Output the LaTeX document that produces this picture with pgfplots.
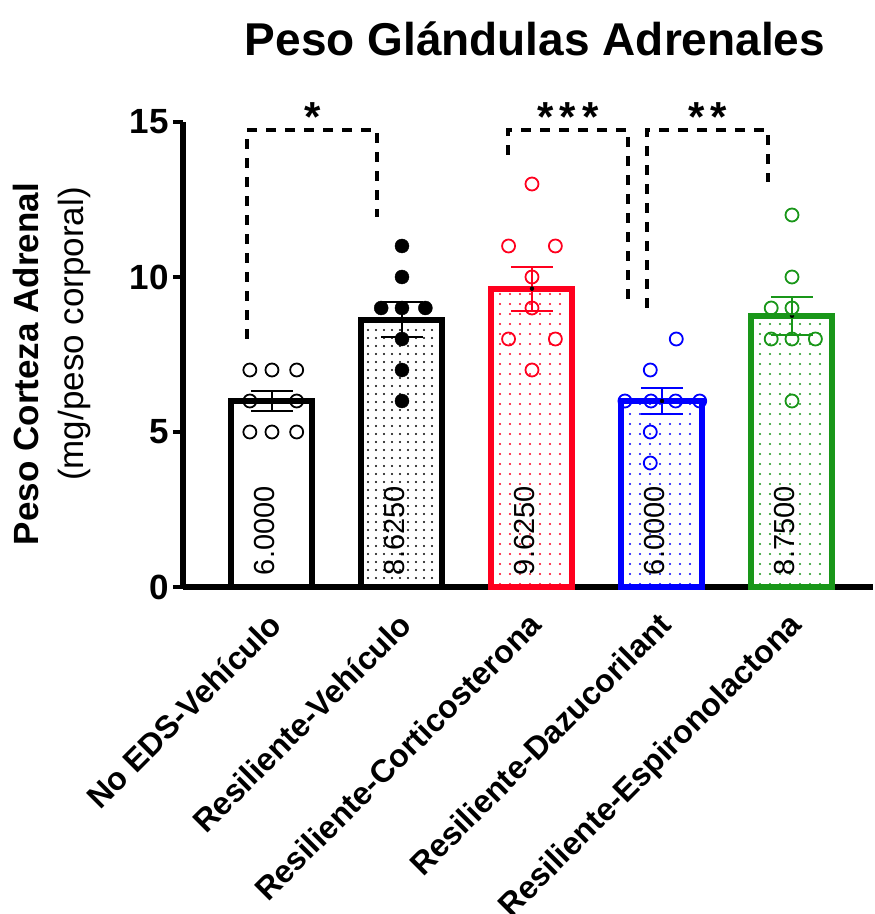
\documentclass[border=0pt]{standalone}
\usepackage{fontspec}
\setmainfont{Liberation Sans}
\usepackage{pgfplots}
\pgfplotsset{compat=1.18}
\usetikzlibrary{patterns.meta}
\definecolor{gred}{RGB}{255,0,30}
\definecolor{gblue}{RGB}{0,0,255}
\definecolor{ggreen}{RGB}{25,150,25}
\begin{document}
\begin{tikzpicture}
\begin{axis}[
  x=130pt, y=31pt,
  xmin=-0.685, xmax=4.62, ymin=0, ymax=15,
  axis x line=bottom, axis y line=left,
  axis line style={-, line width=6.5pt, line cap=butt, black},
  ytick={0,5,10,15},
  xtick={0,1,2,3,4},
  xticklabels={No EDS-Vehículo, Resiliente-Vehículo, Resiliente-Corticosterona, Resiliente-Dazucorilant, Resiliente-Espironolactona},
  x tick style={draw=none},
  xtick align=inside,
  ytick align=outside,
  major tick length=10pt,
  y tick style={line width=4pt, black},
  xticklabel style={rotate=45, anchor=north east, font=\fontsize{32}{36}\selectfont\bfseries, inner sep=0pt, xshift=-20pt, yshift=-13pt},
  yticklabel style={font=\fontsize{35}{40}\selectfont\bfseries, inner sep=0pt, xshift=-4pt},
  /pgf/number format/assume math mode=true,
  clip=false,
]
% bars
\addplot[ybar, bar width=81pt, bar shift=0pt, draw=black, line width=6pt, fill=white] coordinates {(0,6)};
\addplot[ybar, bar width=81pt, bar shift=0pt, draw=black, line width=6pt, pattern={Dots[distance=8pt,radius=1.1pt]}, pattern color=black] coordinates {(1,8.625)};
\addplot[ybar, bar width=81pt, bar shift=0pt, draw=gred, line width=6pt, pattern={Dots[distance=10pt,radius=1.1pt]}, pattern color=gred] coordinates {(2,9.625)};
\addplot[ybar, bar width=81pt, bar shift=0pt, draw=gblue, line width=6pt, pattern={Dots[distance=10pt,radius=1.1pt]}, pattern color=gblue] coordinates {(3,6)};
\addplot[ybar, bar width=81pt, bar shift=0pt, draw=ggreen, line width=6pt, pattern={Dots[distance=10pt,radius=1.1pt]}, pattern color=ggreen] coordinates {(4,8.75)};
% value labels
\node[rotate=90, anchor=mid west, inner sep=0pt, font=\fontsize{29}{32}\selectfont] at (axis cs:0,0.38) {6.0000};
\node[rotate=90, anchor=mid west, inner sep=0pt, font=\fontsize{29}{32}\selectfont] at (axis cs:1,0.38) {8.6250};
\node[rotate=90, anchor=mid west, inner sep=0pt, font=\fontsize{29}{32}\selectfont] at (axis cs:2,0.38) {9.6250};
\node[rotate=90, anchor=mid west, inner sep=0pt, font=\fontsize{29}{32}\selectfont] at (axis cs:3,0.38) {6.0000};
\node[rotate=90, anchor=mid west, inner sep=0pt, font=\fontsize{29}{32}\selectfont] at (axis cs:4,0.38) {8.7500};
% error bars
\addplot[only marks, mark=none, error bars/.cd, y dir=both, y explicit, error bar style={line width=2pt, black}, error mark options={rotate=90, mark size=21pt, line width=2pt, black}] coordinates {(0,6) +- (0,0.327)};
\addplot[only marks, mark=none, error bars/.cd, y dir=both, y explicit, error bar style={line width=2pt, black}, error mark options={rotate=90, mark size=21pt, line width=2pt, black}] coordinates {(1,8.625) +- (0,0.565)};
\addplot[only marks, mark=none, error bars/.cd, y dir=both, y explicit, error bar style={line width=2pt, gred}, error mark options={rotate=90, mark size=21pt, line width=2pt, gred}] coordinates {(2,9.625) +- (0,0.706)};
\addplot[only marks, mark=none, error bars/.cd, y dir=both, y explicit, error bar style={line width=2pt, gblue}, error mark options={rotate=90, mark size=21pt, line width=2pt, gblue}] coordinates {(3,6) +- (0,0.423)};
\addplot[only marks, mark=none, error bars/.cd, y dir=both, y explicit, error bar style={line width=2pt, ggreen}, error mark options={rotate=90, mark size=21pt, line width=2pt, ggreen}] coordinates {(4,8.75) +- (0,0.62)};
% individual points
\addplot[only marks, mark=o, mark size=6.5pt, mark options={line width=1.8pt, black}] coordinates {(-0.17,7) (0,7) (0.19,7) (-0.17,6) (0.19,6) (-0.17,5) (0,5) (0.19,5)};
\addplot[only marks, mark=*, mark size=7pt, mark options={black, fill=black}] coordinates {(1,11) (1,10) (0.84,9) (1,9) (1.18,9) (1,8) (1,7) (1,6)};
\addplot[only marks, mark=o, mark size=6.5pt, mark options={line width=1.8pt, gred}] coordinates {(2,13) (1.82,11) (2.18,11) (2,10) (2,9) (1.82,8) (2.18,8) (2,7)};
\addplot[only marks, mark=o, mark size=6.5pt, mark options={line width=1.8pt, gblue}] coordinates {(3.11,8) (2.91,7) (2.715,6) (2.915,6) (3.105,6) (3.29,6) (2.91,5) (2.91,4)};
\addplot[only marks, mark=o, mark size=6.5pt, mark options={line width=1.8pt, ggreen}] coordinates {(4,12) (4,10) (3.84,9) (4,9) (3.84,8) (4,8) (4.18,8) (4,6)};
% significance brackets
\addplot[black, mark=none, line width=4pt, dash pattern=on 10pt off 9pt] coordinates {(-0.19,8) (-0.19,14.74) (0.81,14.74) (0.81,11.94)};
\addplot[black, mark=none, line width=4pt, dash pattern=on 10pt off 9pt] coordinates {(1.815,13.94) (1.815,14.74) (2.74,14.74) (2.74,9.0)};
\addplot[black, mark=none, line width=4pt, dash pattern=on 10pt off 9pt] coordinates {(2.885,9.0) (2.885,14.74) (3.815,14.74) (3.815,13.06)};
\node[anchor=base, inner sep=0pt, font=\fontsize{42}{44}\selectfont\bfseries] at (axis cs:0.31,14.68) {*};
\node[anchor=base, inner sep=0pt, font=\fontsize{42}{44}\selectfont\bfseries] at (axis cs:2.277,14.68) {*\hspace{6pt}*\hspace{6pt}*};
\node[anchor=base, inner sep=0pt, font=\fontsize{42}{44}\selectfont\bfseries] at (axis cs:3.354,14.68) {*\hspace{6pt}*};
% title and y label
\node[anchor=base, inner sep=0pt, font=\fontsize{46}{52}\selectfont\bfseries] at (axis cs:2.023,17.16) {Peso Glándulas Adrenales};
\node[rotate=90, anchor=center, inner sep=0pt, font=\fontsize{35}{40}\selectfont\bfseries] at (axis cs:-1.89,7.19) {Peso Corteza Adrenal};
\node[rotate=90, anchor=center, inner sep=0pt, font=\fontsize{35}{40}\selectfont] at (axis cs:-1.52,8.16) {(mg/peso corporal)};
\coordinate (BL) at (axis cs:-2.092,-10.548);
\coordinate (TR) at (axis cs:4.638,18.935);
\end{axis}
\pgfresetboundingbox
\useasboundingbox (BL) rectangle (TR);
\end{tikzpicture}
\end{document}
